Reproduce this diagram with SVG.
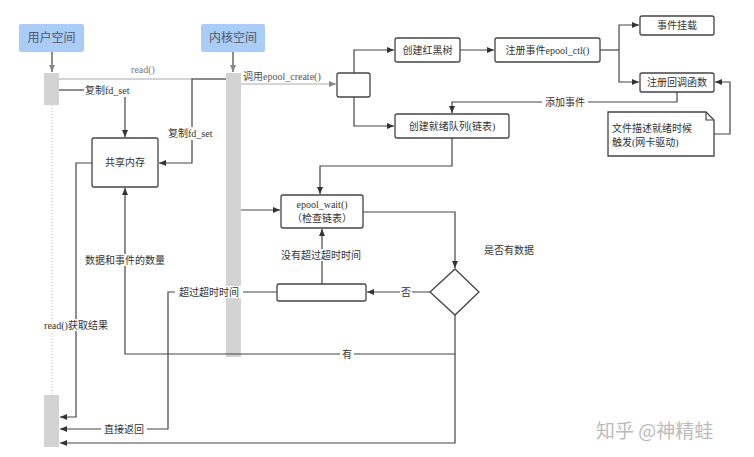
<svg xmlns="http://www.w3.org/2000/svg" width="754" height="457" viewBox="0 0 754 457">
<style>
text{font-family:"Liberation Serif","Noto Sans CJK SC",serif;font-size:10px;fill:#333}
.b{fill:#fff;stroke:#444;stroke-width:1.3}
.h{fill:#a9cdf6;stroke:none}
.bar{fill:#d3d3d3}
.c{fill:none;stroke:#444;stroke-width:1.2}
.g{fill:none;stroke:#aaa;stroke-width:1}
.lb{fill:#fff;stroke:none}
</style>
<defs>
<marker id="a" markerWidth="8" markerHeight="8" refX="7" refY="4" orient="auto" markerUnits="userSpaceOnUse"><path d="M0,1 L7,4 L0,7z" fill="#333"/></marker>
<marker id="ag" markerWidth="8" markerHeight="8" refX="7" refY="4" orient="auto" markerUnits="userSpaceOnUse"><path d="M0,1 L7,4 L0,7z" fill="#888"/></marker>
</defs>
<rect width="754" height="457" fill="#fff"/>
<g id="user"><rect class="h" x="19" y="24" width="65" height="28" rx="2"/><text x="51.5" y="42" text-anchor="middle" style="font-size:12px;fill:#556">用户空间</text></g>
<g id="kernel"><rect class="h" x="201" y="24" width="64" height="28" rx="2"/><text x="233" y="42" text-anchor="middle" style="font-size:12px;fill:#556">内核空间</text></g>
<g id="ubar1"><rect class="bar" x="44" y="73" width="15" height="32"/></g>
<g id="ubar2"><rect class="bar" x="44" y="395" width="15" height="52"/></g>
<g id="kbar"><rect class="bar" x="226" y="73" width="15" height="284"/></g>
<g id="shm"><rect class="b" x="92" y="138" width="66" height="49" rx="2"/><text x="125" y="166" text-anchor="middle">共享内存</text></g>
<g id="small"><rect class="b" x="337" y="73" width="33" height="24" rx="2"/></g>
<g id="rbt"><rect class="b" x="395" y="38" width="65" height="24" rx="2"/><text x="427.5" y="54" text-anchor="middle">创建红黑树</text></g>
<g id="ctl"><rect class="b" x="495" y="38" width="105" height="24" rx="2"/><text x="547.5" y="54" text-anchor="middle">注册事件epool_ctl()</text></g>
<g id="mount"><rect class="b" x="640" y="16" width="74" height="19" rx="2"/><text x="677" y="29" text-anchor="middle">事件挂载</text></g>
<g id="cb"><rect class="b" x="640" y="73" width="74" height="19" rx="2"/><text x="677" y="86" text-anchor="middle">注册回调函数</text></g>
<g id="ready"><rect class="b" x="395" y="114" width="114" height="24" rx="2"/><text x="452" y="130" text-anchor="middle">创建就绪队列(链表)</text></g>
<g id="note"><path class="b" d="M608,112 H706 L714,120 V156 H608 Z"/><path class="c" d="M706,112 V120 H714"/><text x="612" y="132">文件描述就绪时候</text><text x="612" y="146">触发(网卡驱动)</text></g>
<g id="wait"><rect class="b" x="281" y="195" width="82" height="33" rx="2"/><text x="322" y="208" text-anchor="middle">epool_wait()</text><text x="322" y="222" text-anchor="middle">（检查链表）</text></g>
<g id="diamond"><path class="b" d="M455,269 L479,292 L455,315 L430,292 Z"/></g>
<g id="timer"><rect class="b" x="277" y="284" width="89" height="17" rx="2"/></g>
<g id="connectors">
<path class="c" d="M52,52 V72" stroke="#888" marker-end="url(#ag)"/>
<path class="c" d="M233,52 V72" stroke="#888" marker-end="url(#ag)"/>
<path d="M52,105 V395" stroke="#bbb" stroke-dasharray="1,2" fill="none"/>
<path class="g" d="M59,79 H226"/><text x="143" y="73" text-anchor="middle" style="fill:#777">read()</text>
<path class="c" d="M59,90 H84"/><text x="85" y="94">复制fd_set</text>
<path class="c" d="M125,97 V137" marker-end="url(#a)"/>
<path class="c" d="M226,79 H192 V163 H159" marker-end="url(#a)"/>
<rect class="lb" x="168" y="127" width="48" height="13"/><text x="168" y="137">复制fd_set</text>
<path class="g" d="M241,84 H336" stroke="#888" marker-end="url(#ag)"/><text x="243" y="80" style="fill:#555">调用epool_create()</text>
<path class="c" d="M354,73 V50 H394" marker-end="url(#a)"/>
<path class="c" d="M354,97 V126 H394" marker-end="url(#a)"/>
<path class="c" d="M460,50 H494" marker-end="url(#a)"/>
<path class="c" d="M600,50 H619"/>
<path class="c" d="M619,50 V25 H639" marker-end="url(#a)"/>
<path class="c" d="M619,50 V82 H639" marker-end="url(#a)"/>
<path class="c" d="M677,92 V102 H452 V113" marker-end="url(#a)"/>
<rect class="lb" x="542" y="96" width="46" height="12"/><text x="565" y="106" text-anchor="middle">添加事件</text>
<path class="c" d="M714,134 H730 V82 H715" marker-end="url(#a)"/>
<path class="c" d="M452,138 V166 H320 V194" marker-end="url(#a)"/>
<path class="c" d="M241,210 H280" marker-end="url(#a)"/>
<path class="c" d="M363,212 H455 V268" marker-end="url(#a)"/>
<text x="484" y="254">是否有数据</text>
<path class="c" d="M430,292 H367" marker-end="url(#a)"/>
<rect class="lb" x="400" y="286" width="12" height="12"/><text x="406" y="296" text-anchor="middle">否</text>
<path class="c" d="M322,284 V229" marker-end="url(#a)"/>
<rect class="lb" x="277" y="249" width="88" height="12"/><text x="321" y="259" text-anchor="middle">没有超过超时时间</text>
<path class="c" d="M277,292 H168 V429 H60" marker-end="url(#a)"/>
<rect class="lb" x="175" y="286" width="68" height="12"/><text x="209" y="296" text-anchor="middle">超过超时时间</text>
<rect class="lb" x="101" y="423" width="46" height="12"/><text x="124" y="433" text-anchor="middle">直接返回</text>
<path class="c" d="M455,315 V354 H125 V188" marker-end="url(#a)"/>
<rect class="lb" x="340" y="348" width="14" height="12"/><text x="347" y="358" text-anchor="middle">有</text>
<path class="c" d="M455,354 V443 H60" marker-end="url(#a)"/>
<path class="c" d="M92,163 H76 V417 H60" marker-end="url(#a)"/>
<rect class="lb" x="42" y="319" width="68" height="12"/><text x="76" y="329" text-anchor="middle">read()获取结果</text>
<rect class="lb" x="82" y="254" width="86" height="12"/><text x="125" y="264" text-anchor="middle">数据和事件的数量</text>
</g>
<text x="596" y="438" style="font-size:19px;fill:#bbb;font-family:'Noto Sans CJK SC',sans-serif">知乎 @神精蛙</text>
</svg>
